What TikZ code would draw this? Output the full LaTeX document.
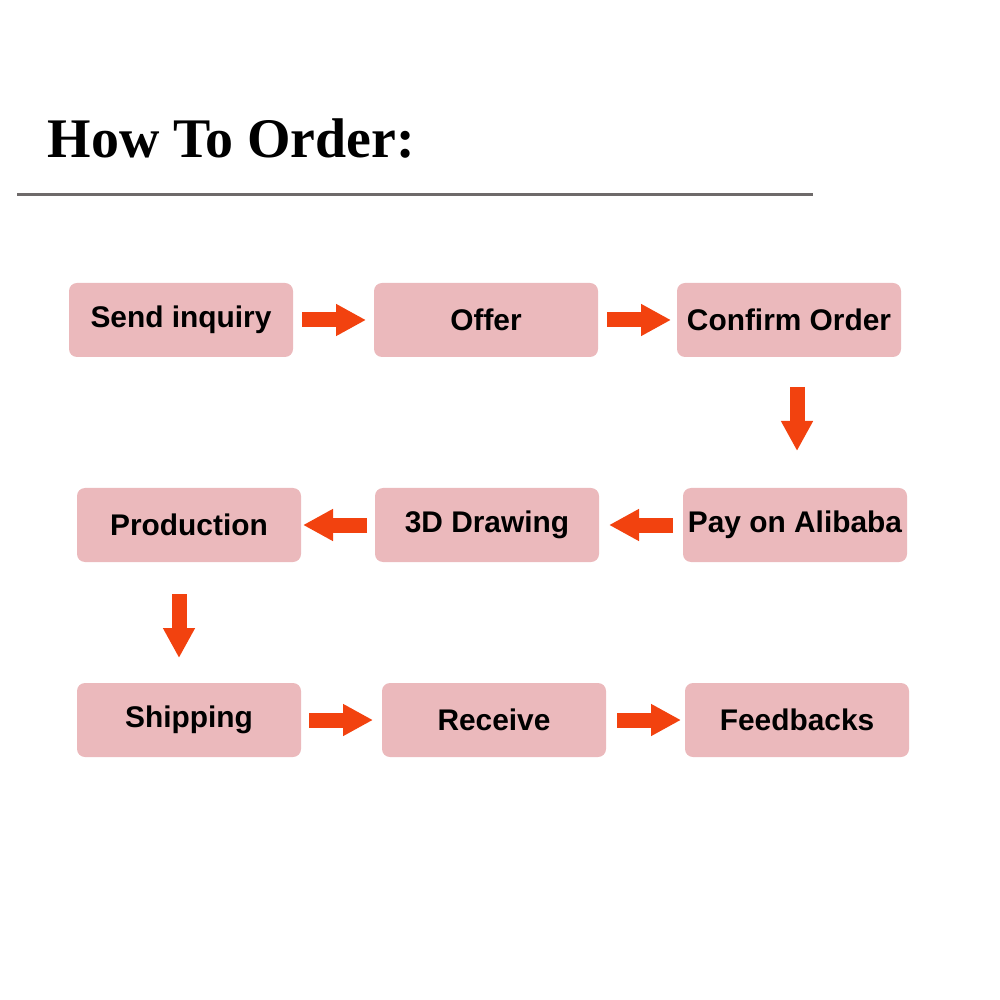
\documentclass[tikz,border=0pt]{standalone}
\usepackage{fontspec}
\setmainfont{Liberation Sans}
\newfontfamily\titlefont{Liberation Serif}
\usepackage{xcolor}
\usetikzlibrary{arrows.meta,positioning}
\definecolor{boxpink}{HTML}{EBB9BC}
\definecolor{arroworange}{HTML}{F2420F}
\definecolor{rulegray}{HTML}{6E6A6A}

\begin{document}
\begin{tikzpicture}[node distance=0.8cm]
\tikzstyle{stepbox} = [rectangle, rounded corners=0.08cm, fill=boxpink, minimum width=2.24cm, minimum height=0.74cm, inner sep=0pt, outer sep=0pt, font=\fontsize{8.5pt}{10pt}\selectfont\bfseries]
\tikzstyle{flow} = [draw=arroworange, line width=0.15cm, -{Triangle[length=0.3cm, width=0.3cm]}]
\useasboundingbox (0,0) rectangle (10,-10);
% title and rule
\node (title) [anchor=base west, inner sep=0pt, font=\fontsize{15.9pt}{18pt}\selectfont\titlefont\bfseries] at (0.47,-1.58) {How To Order:};
\draw [rulegray, line width=0.03cm] (0.17,-1.95) -- (8.13,-1.95);
% first row
\node (send) [stepbox] at (1.81,-3.20) {Send inquiry};
\node (offer) [stepbox, right = 0.81cm of send] {Offer};
\node (confirm) [stepbox, right = 0.79cm of offer] {Confirm Order};
% second row
\node (pay) [stepbox, below = 1.31cm of confirm, xshift=0.06cm] {Pay on Alibaba};
\node (drawing) [stepbox, left = 0.84cm of pay] {3D Drawing};
\node (prod) [stepbox, left = 0.74cm of drawing] {Production};
% third row
\node (ship) [stepbox, below = 1.21cm of prod] {Shipping};
\node (receive) [stepbox, right = 0.81cm of ship] {Receive};
\node (feed) [stepbox, right = 0.79cm of receive] {Feedbacks};
% arrows
\draw [flow, shorten <=0.09cm, shorten >=0.08cm] (send) -- (offer);
\draw [flow, shorten <=0.09cm, shorten >=0.06cm] (offer) -- (confirm);
\draw [flow, shorten <=0.30cm, shorten >=0.37cm] ([xshift=0.02cm]pay.north |- confirm.south) -- ([xshift=0.02cm]pay.north);
\draw [flow, shorten <=0.10cm, shorten >=0.10cm] (pay) -- (drawing);
\draw [flow, shorten <=0.08cm, shorten >=0.02cm] (drawing) -- (prod);
\draw [flow, shorten <=0.32cm, shorten >=0.25cm] ([xshift=-0.10cm]prod.south) -- ([xshift=-0.10cm]ship.north);
\draw [flow, shorten <=0.08cm, shorten >=0.09cm] (ship) -- (receive);
\draw [flow, shorten <=0.11cm, shorten >=0.04cm] (receive) -- (feed);
\end{tikzpicture}
\end{document}
